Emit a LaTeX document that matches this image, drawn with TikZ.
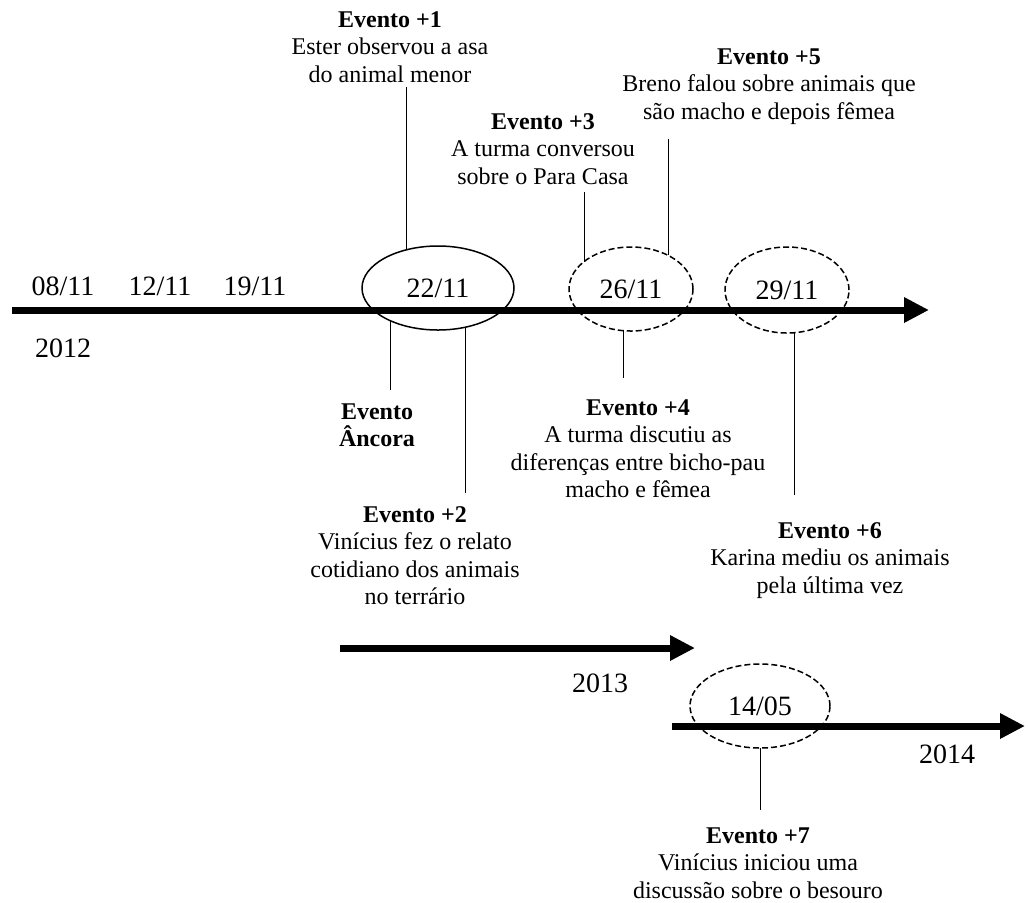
\documentclass[tikz,border=0pt]{standalone}
\usepackage{fontspec}
\setmainfont{Liberation Serif}
\usetikzlibrary{arrows.meta,shapes.geometric}
\begin{document}
\begin{tikzpicture}[x=0.5pt,y=-0.5pt,
  evt/.style={anchor=north, align=center, inner sep=0pt, font=\fontsize{12}{13.75}\selectfont},
  datelbl/.style={anchor=base, inner sep=0pt, font=\fontsize{14}{16}\selectfont},
  era/.style={ellipse, draw, line width=0.75pt, inner sep=0pt, outer sep=0pt, font=\fontsize{14}{16}\selectfont},
  dashera/.style={era, dash pattern=on 3pt off 1.5pt},
  timeline/.style={line width=3.5pt, -{Triangle[length=12.5pt,width=12pt]}},
  conn/.style={line width=0.5pt}]
\useasboundingbox (0,0) rectangle (1028,902);

% timelines
\coordinate (m0) at (12,310);
\coordinate (m1) at (929,310);
\coordinate (s0) at (340,648);
\coordinate (s1) at (695,648);
\coordinate (t0) at (672,726);
\coordinate (t1) at (1025,726);

% ellipses with dates
\node[era, minimum width=76pt, minimum height=42pt] (e22) at (438,288) {22/11};
\node[dashera, minimum width=62pt, minimum height=42pt] (e26) at (631,289) {26/11};
\node[dashera, minimum width=62pt, minimum height=43pt] (e29) at (787,290) {29/11};
\node[dashera, minimum width=70pt, minimum height=42pt] (e14) at (760,706) {14/05};

\draw[timeline] (m0) -- (m1);
\draw[timeline] (s0) -- (s1);
\draw[timeline] (t0) -- (t1);

% plain dates and years
\node[datelbl] (d08) at (63,295) {08/11};
\node[datelbl] (d12) at (160,295) {12/11};
\node[datelbl] (d19) at (255,295) {19/11};
\node[datelbl] (y12) at (63,357) {2012};
\node[datelbl] (y13) at (600,692) {2013};
\node[datelbl] (y14) at (947,763) {2014};

% events
\node[evt] (ev1) at (390,11) {\textbf{Evento +1}\\Ester observou a asa\\do animal menor};
\node[evt] (ev3) at (543,113) {\textbf{Evento +3}\\A turma conversou\\sobre o Para Casa};
\node[evt] (ev5) at (769,48) {\textbf{Evento +5}\\Breno falou sobre animais que\\são macho e depois fêmea};
\node[evt] (anc) at (377,403) {\textbf{Evento}\\\textbf{Âncora}};
\node[evt] (ev2) at (415,506) {\textbf{Evento +2}\\Vinícius fez o relato\\cotidiano dos animais\\no terrário};
\node[evt] (ev4) at (638,399) {\textbf{Evento +4}\\A turma discutiu as\\diferenças entre bicho-pau\\macho e fêmea};
\node[evt] (ev6) at (830,522) {\textbf{Evento +6}\\Karina mediu os animais\\pela última vez};
\node[evt] (ev7) at (758,827) {\textbf{Evento +7}\\Vinícius iniciou uma\\discussão sobre o besouro};

% connector end points
\coordinate (c1a) at (406,87);  \coordinate (c1b) at (406,250);
\coordinate (c3a) at (584,192); \coordinate (c3b) at (584,262);
\coordinate (c5a) at (668,139); \coordinate (c5b) at (668,255);
\coordinate (cAa) at (390,321); \coordinate (cAb) at (390,390);
\coordinate (c2a) at (465,327); \coordinate (c2b) at (465,493);
\coordinate (c4a) at (623,331); \coordinate (c4b) at (623,378);
\coordinate (c6a) at (794,333); \coordinate (c6b) at (794,495);
\coordinate (c7a) at (760,748); \coordinate (c7b) at (760,810);

\draw[conn] (c1a) -- (c1b);
\draw[conn] (c3a) -- (c3b);
\draw[conn] (c5a) -- (c5b);
\draw[conn] (cAa) -- (cAb);
\draw[conn] (c2a) -- (c2b);
\draw[conn] (c4a) -- (c4b);
\draw[conn] (c6a) -- (c6b);
\draw[conn] (c7a) -- (c7b);
\end{tikzpicture}
\end{document}
